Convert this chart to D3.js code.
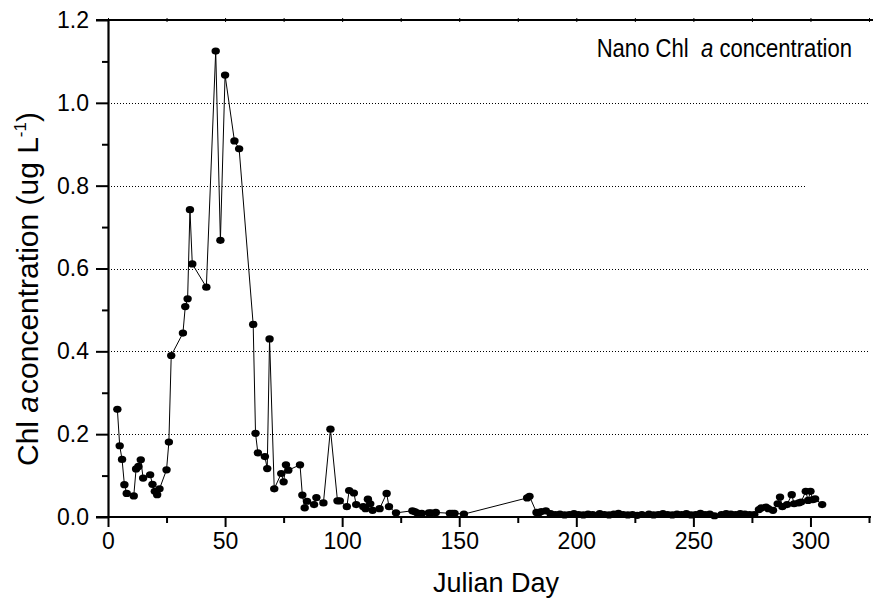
<!DOCTYPE html>
<html>
<head>
<meta charset="utf-8">
<script src="https://cdn.jsdelivr.net/npm/d3@7"></script>
<style>
  html, body { margin: 0; padding: 0; background: #fff; }
  svg { display: block; font-family: "Liberation Sans", Arial, sans-serif; }
</style>
</head>
<body>
<svg id="chart" width="873" height="598"></svg>
<script>
// ---- data ----
const days = [4, 5, 6, 7, 8, 11, 12, 13, 14, 15, 18, 19, 20, 21, 22, 25, 26, 27, 32, 33,
  34, 35, 36, 42, 46, 48, 50, 54, 56, 62, 63, 64, 67, 68, 69, 71, 74, 75, 76, 77,
  82, 83, 84, 85, 88, 89, 92, 95, 98, 99, 102, 103, 105, 106, 109, 110, 111, 112, 113, 116,
  119, 120, 123, 130, 131, 132, 134, 137, 138, 140, 146, 147, 148, 152,
  179, 180, 183, 184, 185, 187, 189, 191, 193, 195, 197, 199, 201, 203, 205, 207,
  210, 212, 214, 216, 218, 220, 222, 224, 226, 228, 231, 233, 235, 237, 239, 241,
  243, 245, 247, 249, 251, 253, 255, 257, 259, 262, 264, 266, 268, 270, 272, 274,
  276, 278, 279, 281, 282, 284, 286, 287, 288, 290, 292, 293, 295, 296, 298, 299,
  300, 301, 302, 305];
const chl = [0.260, 0.172, 0.139, 0.078, 0.057, 0.051, 0.116, 0.122, 0.138, 0.094, 0.102, 0.079, 0.062, 0.054, 0.068, 0.114, 0.181, 0.390, 0.444, 0.508,
  0.527, 0.742, 0.611, 0.555, 1.125, 0.668, 1.067, 0.908, 0.889, 0.465, 0.202, 0.155, 0.146, 0.117, 0.430, 0.068, 0.105, 0.085, 0.126, 0.113,
  0.126, 0.053, 0.022, 0.038, 0.030, 0.047, 0.034, 0.212, 0.039, 0.039, 0.025, 0.064, 0.058, 0.030, 0.025, 0.020, 0.043, 0.032, 0.016, 0.020,
  0.057, 0.025, 0.010, 0.015, 0.013, 0.010, 0.009, 0.010, 0.010, 0.011, 0.009, 0.009, 0.009, 0.007,
  0.046, 0.050, 0.011, 0.010, 0.013, 0.015, 0.008, 0.006, 0.007, 0.005, 0.006, 0.008, 0.006, 0.005, 0.007, 0.006,
  0.008, 0.006, 0.005, 0.007, 0.009, 0.006, 0.005, 0.006, 0.004, 0.006, 0.007, 0.005, 0.006, 0.008, 0.006, 0.005,
  0.007, 0.006, 0.008, 0.005, 0.006, 0.009, 0.006, 0.007, 0.003, 0.006, 0.008, 0.007, 0.006, 0.008, 0.007, 0.006,
  0.006, 0.018, 0.022, 0.024, 0.020, 0.016, 0.032, 0.048, 0.025, 0.030, 0.054, 0.032, 0.034, 0.036, 0.062, 0.040,
  0.062, 0.042, 0.044, 0.030];
const xMajorTicks = [0, 50, 100, 150, 200, 250, 300];
const xMinorTicks = [25, 75, 125, 175, 225, 275, 325];
const yMajorTicks = [0.0, 0.2, 0.4, 0.6, 0.8, 1.0, 1.2];
const yMinorTicks = [0.1, 0.3, 0.5, 0.7, 0.9, 1.1];
const gridValues = [0.2, 0.4, 0.6, 0.8, 1.0];
const gridEndDay = [325, 325, 325, 298, 325];
const xTitle = "Julian Day";
const legendLabel = ["Nano Chl ", "a", " concentration"];

// ---- layout ----
const svg = d3.select("#chart");
const x = d3.scaleLinear().domain([0, 325]).range([108, 869]);
const y = d3.scaleLinear().domain([0, 1.2]).range([517, 20]);
const fmt = d3.format(".1f");

// gridlines
svg.append("g").selectAll("line").data(gridValues).join("line")
  .attr("x1", x(0)).attr("x2", (d, i) => x(gridEndDay[i]))
  .attr("y1", d => Math.round(y(d)) + 0.5).attr("y2", d => Math.round(y(d)) + 0.5)
  .attr("stroke", "#000").attr("stroke-width", 1).attr("stroke-dasharray", "1,2");

// bottom axis
const bottomAxis = svg.append("g").attr("transform", `translate(0,${y(0)})`);
bottomAxis.call(d3.axisBottom(x).tickValues(xMajorTicks).tickSize(10).tickSizeOuter(0).tickPadding(6).tickFormat(d3.format("d")));
bottomAxis.append("g").call(d3.axisBottom(x).tickValues(xMinorTicks).tickSize(6).tickFormat(""))
  .select(".domain").remove();
bottomAxis.select(".domain").attr("d", `M${x(0) - 12},0H${x(325) + 2}`);

// left axis
const leftAxis = svg.append("g").attr("transform", `translate(${x(0)},0)`);
leftAxis.call(d3.axisLeft(y).tickValues(yMajorTicks).tickSize(12).tickSizeOuter(0).tickPadding(7).tickFormat(fmt));
leftAxis.append("g").call(d3.axisLeft(y).tickValues(yMinorTicks).tickSize(6).tickFormat(""))
  .select(".domain").remove();

// top axis
const topAxis = svg.append("g").attr("transform", `translate(0,${y(1.2)})`);
topAxis.call(d3.axisTop(x).tickValues(xMajorTicks.concat(xMinorTicks)).tickSize(2).tickSizeOuter(0).tickFormat(""));
topAxis.append("g").call(d3.axisBottom(x).tickValues(xMajorTicks.concat(xMinorTicks)).tickSize(2).tickFormat(""))
  .select(".domain").remove();
topAxis.select(".domain").attr("d", `M${x(0) - 12},0H873`);

svg.selectAll(".domain").attr("stroke", "#000").attr("stroke-width", 2.2);
svg.selectAll(".tick line").attr("stroke", "#000").attr("stroke-width", 2);
topAxis.selectAll(".tick line").attr("stroke-width", 1);
svg.selectAll(".tick text").attr("fill", "#000").attr("font-size", 23)
  .attr("font-family", "'Liberation Sans', Arial, sans-serif");

// axis titles
svg.append("text").attr("x", 496).attr("y", 592).attr("text-anchor", "middle")
  .attr("font-size", 27).attr("fill", "#000").text(xTitle);

const yt = svg.append("text").attr("transform", "translate(38,289) rotate(-90)")
  .attr("text-anchor", "middle").attr("font-size", 30).attr("fill", "#000");
yt.append("tspan").text("Chl ");
yt.append("tspan").attr("font-style", "italic").text("a");
yt.append("tspan").attr("dx", 2).text("concentration (ug L");
yt.append("tspan").attr("font-size", 17).attr("dy", -12).text("-1");
yt.append("tspan").attr("dy", 12).text(")");

// legend label (slightly condensed like the reference)
const lg = svg.append("g").attr("transform", "translate(852,57) scale(0.85,1)")
  .append("text").attr("x", 0).attr("y", 0).attr("text-anchor", "end")
  .attr("font-size", 26).attr("fill", "#000");
lg.append("tspan").text(legendLabel[0] + "\u00a0");
lg.append("tspan").attr("font-style", "italic").text(legendLabel[1]);
lg.append("tspan").text(legendLabel[2]);

// series
const pts = days.map((d, i) => ({ d, v: chl[i] }));
svg.append("path").datum(pts)
  .attr("fill", "none").attr("stroke", "#000").attr("stroke-width", 1)
  .attr("d", d3.line().x(p => x(p.d)).y(p => y(p.v)));
svg.append("g").selectAll("ellipse").data(pts).join("ellipse")
  .attr("cx", p => x(p.d)).attr("cy", p => y(p.v))
  .attr("rx", 4.2).attr("ry", 3.6).attr("fill", "#000");
</script>
</body>
</html>
